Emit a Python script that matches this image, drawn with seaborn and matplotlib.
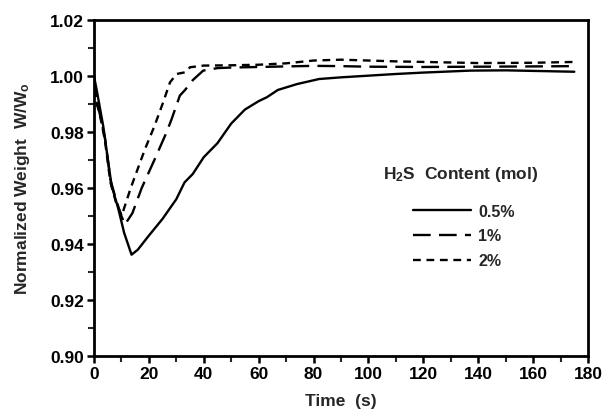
import numpy as np
import pandas as pd
import matplotlib
matplotlib.use("Agg")
import matplotlib.pyplot as plt
import seaborn as sns
from matplotlib.ticker import MultipleLocator

# --- data ---
t_05 = [0, 1, 3.4, 6.4, 8.9, 11, 13.7, 16, 20, 25, 30, 33, 36, 40, 45, 50, 55, 60, 63,
        67, 74, 82, 90, 100, 110, 120, 137, 150, 160, 175]
w_05 = [1.000, 0.995, 0.982, 0.961, 0.9525, 0.944, 0.9362, 0.938, 0.943, 0.949, 0.956,
        0.962, 0.965, 0.971, 0.976, 0.983, 0.988, 0.991, 0.9924, 0.995, 0.9971, 0.9989,
        0.9995, 1.0001, 1.0007, 1.0012, 1.0019, 1.0020, 1.0018, 1.0015]

t_1 = [0, 1, 2, 4, 6, 8, 10, 11.3, 14, 17.4, 22.2, 26.5, 28.3, 31.3, 33.2, 36, 39.8, 45,
       50, 60, 70, 80, 90, 100, 120, 140, 160, 175]
w_1 = [1.000, 0.990, 0.987, 0.978, 0.963, 0.956, 0.950, 0.947, 0.951, 0.960, 0.9704,
       0.980, 0.9846, 0.9930, 0.9950, 0.9985, 1.0019, 1.0028, 1.0030, 1.0032, 1.0034,
       1.0036, 1.0035, 1.0033, 1.0032, 1.0033, 1.0034, 1.0035]

t_2 = [0, 1, 2, 4, 6, 8, 10.1, 13.4, 18.6, 22, 25, 27.7, 30.1, 33.2, 35, 40, 50, 60, 70,
       80, 90, 100, 110, 120, 140, 160, 175]
w_2 = [1.000, 0.991, 0.987, 0.977, 0.962, 0.955, 0.9501, 0.960, 0.9739, 0.982, 0.990,
       0.9977, 1.0007, 1.0013, 1.0031, 1.0037, 1.0038, 1.0040, 1.0045, 1.0055, 1.0058,
       1.0055, 1.0052, 1.0050, 1.0046, 1.0047, 1.0050]

labels = ["0.5%", "1%", "2%"]
x_ticks = [0, 20, 40, 60, 80, 100, 120, 140, 160, 180]
y_ticks = [0.90, 0.92, 0.94, 0.96, 0.98, 1.00, 1.02]

df = pd.concat([
    pd.DataFrame({"t": t_05, "w": w_05, "H2S": labels[0]}),
    pd.DataFrame({"t": t_1, "w": w_1, "H2S": labels[1]}),
    pd.DataFrame({"t": t_2, "w": w_2, "H2S": labels[2]}),
], ignore_index=True)

sns.set_theme(style="ticks")
plt.rcParams["font.family"] = ["Liberation Sans", "DejaVu Sans"]
plt.rcParams["font.weight"] = "bold"
plt.rcParams["mathtext.fontset"] = "custom"
plt.rcParams["mathtext.rm"] = "Liberation Sans:bold"
plt.rcParams["mathtext.bf"] = "Liberation Sans:bold"
plt.rcParams["mathtext.it"] = "Liberation Sans:bold"

fig = plt.figure(figsize=(6.1, 4.1), dpi=100)
ax = fig.add_axes([0.154, 0.129, 0.810, 0.820])

dashes = {labels[0]: "", labels[1]: (7.5, 3.5), labels[2]: (3.3, 2.4)}
sns.lineplot(data=df, x="t", y="w", style="H2S", dashes=dashes, color="black",
             linewidth=1.7, ax=ax, sort=False, estimator=None)

ax.set_xlim(0, 180)
ax.set_ylim(0.90, 1.02)
ax.set_xticks(x_ticks)
ax.set_yticks(y_ticks)
ax.set_xticklabels([str(v) for v in x_ticks])
ax.set_yticklabels([f"{v:.2f}" for v in y_ticks])
ax.xaxis.set_minor_locator(MultipleLocator(10))
ax.yaxis.set_minor_locator(MultipleLocator(0.01))
ax.tick_params(which="major", direction="out", length=5, width=1.8, labelsize=12.5,
               colors="black", pad=2)
ax.tick_params(which="minor", direction="out", length=4, width=1.5)
for lab in ax.get_xticklabels() + ax.get_yticklabels():
    lab.set_fontweight("bold")
for s in ax.spines.values():
    s.set_linewidth(2.0)
    s.set_color("black")

ax.set_xlabel("Time  (s)", fontsize=12.5, fontweight="bold", labelpad=9)
ax.set_ylabel(r"Normalized Weight  W/W$_{\mathrm{o}}$", fontsize=12.5,
              fontweight="bold", labelpad=13)

fig.text(383 / 610, 1 - 175 / 410, r"H$_{\mathrm{2}}$S  Content (mol)",
         fontsize=12.5, fontweight="bold", ha="left", va="center")

leg = ax.legend(frameon=False, loc="center left",
                bbox_to_anchor=(413 / 610, 1 - 237 / 410),
                bbox_transform=fig.transFigure, borderpad=0, borderaxespad=0,
                fontsize=11.5, handlelength=3.6, labelspacing=0.62,
                handletextpad=0.5)
for txt in leg.get_texts():
    txt.set_fontweight("bold")
for ln in leg.get_lines():
    ln.set_linewidth(1.7)

fig.savefig("out.png", dpi=100)
